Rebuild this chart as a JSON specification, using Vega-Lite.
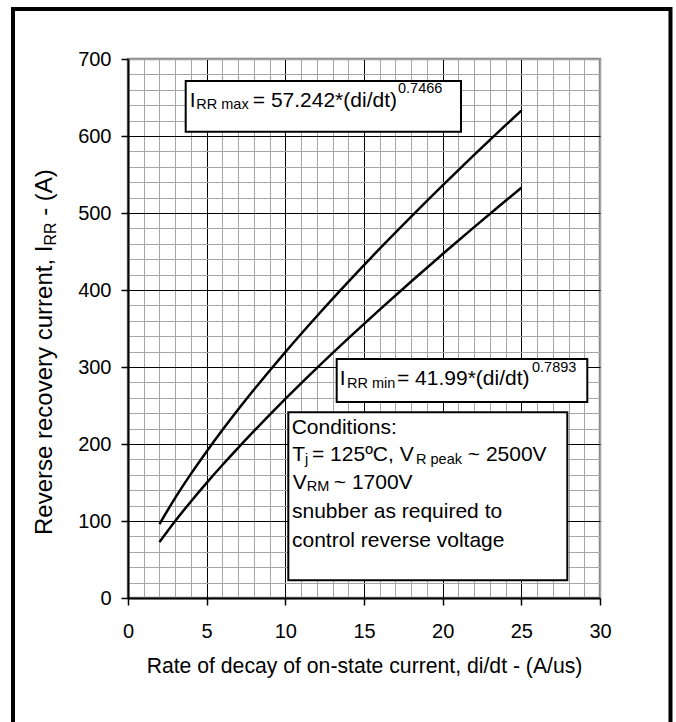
{
  "$schema": "https://vega.github.io/schema/vega-lite/v6.json",
  "width": 472,
  "height": 539,
  "autosize": {"type": "none"},
  "padding": {"left": 128, "top": 59, "right": 76, "bottom": 124},
  "background": "white",
  "config": {
    "font": "Liberation Sans",
    "view": {"stroke": "#8a8a8a", "strokeWidth": 2.5},
    "text": {"font": "Liberation Sans", "color": "black", "align": "left", "baseline": "alphabetic"}
  },
  "resolve": {"axis": {"x": "independent", "y": "independent"}},
  "datasets": {
    "curves": [
      {"didt": 2, "irr": 96.03, "series": "IRR max"},
      {"didt": 3, "irr": 130.0, "series": "IRR max"},
      {"didt": 4, "irr": 161.14, "series": "IRR max"},
      {"didt": 5, "irr": 190.36, "series": "IRR max"},
      {"didt": 6, "irr": 218.11, "series": "IRR max"},
      {"didt": 7, "irr": 244.72, "series": "IRR max"},
      {"didt": 8, "irr": 270.37, "series": "IRR max"},
      {"didt": 9, "irr": 295.22, "series": "IRR max"},
      {"didt": 10, "irr": 319.38, "series": "IRR max"},
      {"didt": 12, "irr": 365.95, "series": "IRR max"},
      {"didt": 14, "irr": 410.6, "series": "IRR max"},
      {"didt": 16, "irr": 453.64, "series": "IRR max"},
      {"didt": 18, "irr": 495.34, "series": "IRR max"},
      {"didt": 20, "irr": 535.87, "series": "IRR max"},
      {"didt": 22, "irr": 575.4, "series": "IRR max"},
      {"didt": 24, "irr": 614.02, "series": "IRR max"},
      {"didt": 25, "irr": 633.02, "series": "IRR max"},
      {"didt": 2, "irr": 72.57, "series": "IRR min"},
      {"didt": 3, "irr": 99.94, "series": "IRR min"},
      {"didt": 4, "irr": 125.42, "series": "IRR min"},
      {"didt": 5, "irr": 149.57, "series": "IRR min"},
      {"didt": 6, "irr": 172.72, "series": "IRR min"},
      {"didt": 7, "irr": 195.07, "series": "IRR min"},
      {"didt": 8, "irr": 216.74, "series": "IRR min"},
      {"didt": 9, "irr": 237.86, "series": "IRR min"},
      {"didt": 10, "irr": 258.49, "series": "IRR min"},
      {"didt": 12, "irr": 298.5, "series": "IRR min"},
      {"didt": 14, "irr": 337.12, "series": "IRR min"},
      {"didt": 16, "irr": 374.59, "series": "IRR min"},
      {"didt": 18, "irr": 411.08, "series": "IRR min"},
      {"didt": 20, "irr": 446.74, "series": "IRR min"},
      {"didt": 22, "irr": 481.64, "series": "IRR min"},
      {"didt": 24, "irr": 515.88, "series": "IRR min"},
      {"didt": 25, "irr": 532.77, "series": "IRR min"}
    ],
    "one": [{}]
  },
  "layer": [
    {
      "data": {"name": "curves"},
      "mark": {"type": "line", "color": "black", "strokeWidth": 2.5, "interpolate": "monotone"},
      "encoding": {
        "x": {
          "field": "didt", "type": "quantitative",
          "scale": {"domain": [0, 30], "nice": false, "zero": false},
          "axis": {
            "orient": "bottom",
            "values": [0,1,2,3,4,5,6,7,8,9,10,11,12,13,14,15,16,17,18,19,20,21,22,23,24,25,26,27,28,29,30],
            "grid": true,
            "gridColor": {"condition": {"test": "datum.value % 5 === 0 && datum.value > 0 && datum.value < 30", "value": "black"}, "value": "#a6a6a6"},
            "gridWidth": 1,
            "tickOpacity": {"condition": {"test": "datum.value % 5 === 0", "value": 1}, "value": 0},
            "tickColor": "black", "tickSize": 7, "tickWidth": 1.5,
            "labelExpr": "datum.value % 5 === 0 ? datum.label : ''",
            "labelFontSize": 20, "labelColor": "black", "labelPadding": 16,
            "labelOverlap": false, "labelFlush": false, "labelFont": "Liberation Sans",
            "domainColor": "black", "domainWidth": 2,
            "title": "Rate of decay of on-state current, di/dt - (A/us)",
            "titleFont": "Liberation Sans", "titleFontSize": 21.2, "titleFontWeight": "normal",
            "titleColor": "black", "titleY": 74.3, "titleBaseline": "alphabetic"
          }
        },
        "y": {
          "field": "irr", "type": "quantitative",
          "scale": {"domain": [0, 700], "nice": false, "zero": false},
          "axis": {
            "orient": "left",
            "values": [0,20,40,60,80,100,120,140,160,180,200,220,240,260,280,300,320,340,360,380,400,420,440,460,480,500,520,540,560,580,600,620,640,660,680,700],
            "grid": true,
            "gridColor": {"condition": {"test": "datum.value % 100 === 0 && datum.value > 0 && datum.value < 700", "value": "black"}, "value": "#a6a6a6"},
            "gridWidth": 1,
            "tickOpacity": {"condition": {"test": "datum.value % 100 === 0", "value": 1}, "value": 0},
            "tickColor": "black", "tickSize": 7, "tickWidth": 1.5,
            "labelExpr": "datum.value % 100 === 0 ? datum.label : ''",
            "labelFontSize": 20, "labelColor": "black", "labelPadding": 10,
            "labelOverlap": false, "labelFlush": false, "labelFont": "Liberation Sans",
            "domainColor": "black", "domainWidth": 2,
            "title": null
          }
        },
        "detail": {"field": "series", "type": "nominal"}
      }
    },
    {
      "data": {"name": "one"},
      "mark": {"type": "rect", "fill": "white", "stroke": "black", "strokeWidth": 2},
      "encoding": {
        "x": {"datum": 3.667, "type": "quantitative", "axis": null},
        "x2": {"datum": 21.165},
        "y": {"datum": 671.43, "type": "quantitative", "axis": null},
        "y2": {"datum": 605.58}
      }
    },
    {
      "data": {"name": "one"},
      "mark": {"type": "rect", "fill": "white", "stroke": "black", "strokeWidth": 2},
      "encoding": {
        "x": {"datum": 13.265, "type": "quantitative", "axis": null},
        "x2": {"datum": 29.193},
        "y": {"datum": 310.39, "type": "quantitative", "axis": null},
        "y2": {"datum": 254.55}
      }
    },
    {
      "data": {"name": "one"},
      "mark": {"type": "rect", "fill": "white", "stroke": "black", "strokeWidth": 2},
      "encoding": {
        "x": {"datum": 10.189, "type": "quantitative", "axis": null},
        "x2": {"datum": 27.922},
        "y": {"datum": 241.17, "type": "quantitative", "axis": null},
        "y2": {"datum": 22.99}
      }
    },
    {"data": {"name": "one"}, "mark": {"type": "text", "text": "I", "fontSize": 21, "dx": 4},
     "encoding": {"x": {"datum": 3.667, "type": "quantitative", "axis": null}, "y": {"datum": 638.05, "type": "quantitative", "axis": null}}},
    {"data": {"name": "one"}, "mark": {"type": "text", "text": "RR max", "fontSize": 14.5, "dx": 10.6, "dy": 2.5},
     "encoding": {"x": {"datum": 3.667, "type": "quantitative", "axis": null}, "y": {"datum": 638.05, "type": "quantitative", "axis": null}}},
    {"data": {"name": "one"}, "mark": {"type": "text", "text": "= 57.242*(di/dt)", "fontSize": 21, "dx": 67.1},
     "encoding": {"x": {"datum": 3.667, "type": "quantitative", "axis": null}, "y": {"datum": 638.05, "type": "quantitative", "axis": null}}},
    {"data": {"name": "one"}, "mark": {"type": "text", "text": "0.7466", "fontSize": 14.5, "dx": 212.3, "dy": -13.3},
     "encoding": {"x": {"datum": 3.667, "type": "quantitative", "axis": null}, "y": {"datum": 638.05, "type": "quantitative", "axis": null}}},
    {"data": {"name": "one"}, "mark": {"type": "text", "text": "I", "fontSize": 21, "dx": 3},
     "encoding": {"x": {"datum": 13.265, "type": "quantitative", "axis": null}, "y": {"datum": 276.62, "type": "quantitative", "axis": null}}},
    {"data": {"name": "one"}, "mark": {"type": "text", "text": "RR min", "fontSize": 14.5, "dx": 10.3, "dy": 2.5},
     "encoding": {"x": {"datum": 13.265, "type": "quantitative", "axis": null}, "y": {"datum": 276.62, "type": "quantitative", "axis": null}}},
    {"data": {"name": "one"}, "mark": {"type": "text", "text": "= 41.99*(di/dt)", "fontSize": 21, "dx": 60.3},
     "encoding": {"x": {"datum": 13.265, "type": "quantitative", "axis": null}, "y": {"datum": 276.62, "type": "quantitative", "axis": null}}},
    {"data": {"name": "one"}, "mark": {"type": "text", "text": "0.7893", "fontSize": 14.5, "dx": 195.3, "dy": -13.3},
     "encoding": {"x": {"datum": 13.265, "type": "quantitative", "axis": null}, "y": {"datum": 276.62, "type": "quantitative", "axis": null}}},
    {"data": {"name": "one"}, "mark": {"type": "text", "text": "Conditions:", "fontSize": 21, "dx": 3.4},
     "encoding": {"x": {"datum": 10.189, "type": "quantitative", "axis": null}, "y": {"datum": 212.99, "type": "quantitative", "axis": null}}},
    {"data": {"name": "one"}, "mark": {"type": "text", "text": "T", "fontSize": 21, "dx": 4},
     "encoding": {"x": {"datum": 10.189, "type": "quantitative", "axis": null}, "y": {"datum": 177.92, "type": "quantitative", "axis": null}}},
    {"data": {"name": "one"}, "mark": {"type": "text", "text": "j", "fontSize": 14.5, "dx": 16.7, "dy": 3},
     "encoding": {"x": {"datum": 10.189, "type": "quantitative", "axis": null}, "y": {"datum": 177.92, "type": "quantitative", "axis": null}}},
    {"data": {"name": "one"}, "mark": {"type": "text", "text": "= 125ºC, V", "fontSize": 21, "dx": 23.7},
     "encoding": {"x": {"datum": 10.189, "type": "quantitative", "axis": null}, "y": {"datum": 177.92, "type": "quantitative", "axis": null}}},
    {"data": {"name": "one"}, "mark": {"type": "text", "text": "R peak", "fontSize": 14.5, "dx": 127.7, "dy": 2.5},
     "encoding": {"x": {"datum": 10.189, "type": "quantitative", "axis": null}, "y": {"datum": 177.92, "type": "quantitative", "axis": null}}},
    {"data": {"name": "one"}, "mark": {"type": "text", "text": "~ 2500V", "fontSize": 21, "dx": 179.5},
     "encoding": {"x": {"datum": 10.189, "type": "quantitative", "axis": null}, "y": {"datum": 177.92, "type": "quantitative", "axis": null}}},
    {"data": {"name": "one"}, "mark": {"type": "text", "text": "V", "fontSize": 21, "dx": 4.4},
     "encoding": {"x": {"datum": 10.189, "type": "quantitative", "axis": null}, "y": {"datum": 141.56, "type": "quantitative", "axis": null}}},
    {"data": {"name": "one"}, "mark": {"type": "text", "text": "RM", "fontSize": 14.5, "dx": 18.4, "dy": 2.5},
     "encoding": {"x": {"datum": 10.189, "type": "quantitative", "axis": null}, "y": {"datum": 141.56, "type": "quantitative", "axis": null}}},
    {"data": {"name": "one"}, "mark": {"type": "text", "text": "~ 1700V", "fontSize": 21, "dx": 45.5},
     "encoding": {"x": {"datum": 10.189, "type": "quantitative", "axis": null}, "y": {"datum": 141.56, "type": "quantitative", "axis": null}}},
    {"data": {"name": "one"}, "mark": {"type": "text", "text": "snubber as required to", "fontSize": 21, "dx": 3.7},
     "encoding": {"x": {"datum": 10.189, "type": "quantitative", "axis": null}, "y": {"datum": 103.25, "type": "quantitative", "axis": null}}},
    {"data": {"name": "one"}, "mark": {"type": "text", "text": "control reverse voltage", "fontSize": 21, "dx": 3.7},
     "encoding": {"x": {"datum": 10.189, "type": "quantitative", "axis": null}, "y": {"datum": 66.23, "type": "quantitative", "axis": null}}},
    {"data": {"name": "one"}, "mark": {"type": "text", "text": "Reverse recovery current, I", "fontSize": 24, "angle": 270, "dx": 0},
     "encoding": {"x": {"datum": -4.799, "type": "quantitative", "axis": null}, "y": {"datum": 81.8, "type": "quantitative", "axis": null}}},
    {"data": {"name": "one"}, "mark": {"type": "text", "text": "RR", "fontSize": 16, "angle": 270, "dx": 289.4, "dy": 3.5},
     "encoding": {"x": {"datum": -4.799, "type": "quantitative", "axis": null}, "y": {"datum": 81.8, "type": "quantitative", "axis": null}}},
    {"data": {"name": "one"}, "mark": {"type": "text", "text": "- (A)", "fontSize": 24, "angle": 270, "dx": 319.2},
     "encoding": {"x": {"datum": -4.799, "type": "quantitative", "axis": null}, "y": {"datum": 81.8, "type": "quantitative", "axis": null}}},
    {
      "data": {"name": "one"},
      "mark": {"type": "rect", "fillOpacity": 0, "stroke": "black", "strokeWidth": 4},
      "encoding": {
        "x": {"datum": -7.309, "type": "quantitative", "axis": null},
        "x2": {"datum": 34.48},
        "y": {"datum": 764.9, "type": "quantitative", "axis": null},
        "y2": {"datum": -184.4}
      }
    }
  ]
}
